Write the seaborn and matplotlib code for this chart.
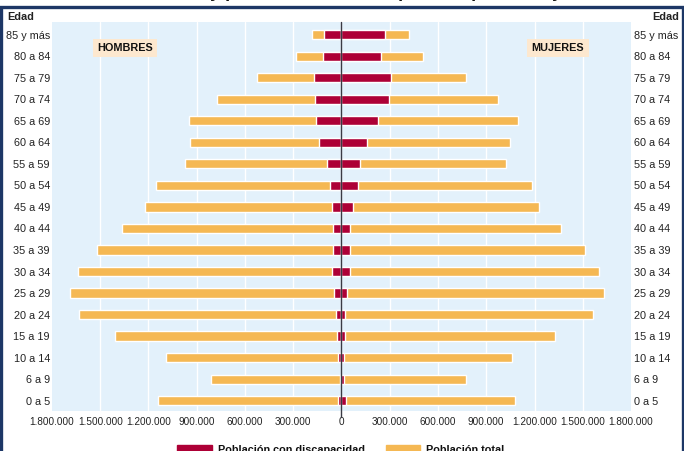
import numpy as np
import pandas as pd
import seaborn as sns
import matplotlib.pyplot as plt
from matplotlib.patches import Rectangle, Patch

# grupos de edad, de arriba hacia abajo
edades = ["85 y más", "80 a 84", "75 a 79", "70 a 74", "65 a 69", "60 a 64",
          "55 a 59", "50 a 54", "45 a 49", "40 a 44", "35 a 39", "30 a 34",
          "25 a 29", "20 a 24", "15 a 19", "10 a 14", "6 a 9", "0 a 5"]

# miles de personas
hombres_total = [184, 284, 528, 772, 947, 941, 972, 1153, 1222, 1366, 1522, 1641,
                 1691, 1634, 1409, 1091, 809, 1141]
mujeres_total = [420, 509, 772, 976, 1097, 1045, 1022, 1184, 1228, 1366, 1516, 1603,
                 1634, 1566, 1328, 1059, 772, 1078]
hombres_disc = [107, 118, 170, 164, 159, 141, 91, 74, 61, 55, 55, 61,
                47, 34, 30, 20, 11, 24]
mujeres_disc = [272, 247, 305, 295, 224, 159, 116, 103, 74, 55, 55, 51,
                32, 22, 22, 17, 17, 28]

ticks = [-1800000, -1500000, -1200000, -900000, -600000, -300000, 0,
         300000, 600000, 900000, 1200000, 1500000, 1800000]
tick_labels = ["1.800.000", "1.500.000", "1.200.000", "900.000", "600.000", "300.000", "0",
               "300.000", "600.000", "900.000", "1.200.000", "1.500.000", "1.800.000"]

ROJO = "#ad0036"
NARANJA = "#f5b853"
AZUL_FONDO = "#e3f1fb"
MARCO = "#1d3766"
TEXTO = "#222222"

df = pd.DataFrame({
    "edad": edades,
    "h_total": -np.array(hombres_total) * 1000,
    "m_total": np.array(mujeres_total) * 1000,
    "h_disc": -np.array(hombres_disc) * 1000,
    "m_disc": np.array(mujeres_disc) * 1000,
})

sns.set_style("white")
plt.rcParams["font.family"] = ["Liberation Sans", "DejaVu Sans"]

fig = plt.figure(figsize=(6.84, 4.51), dpi=100)
ax = fig.add_axes([52 / 684, 40 / 451, 579 / 684, 389 / 451])
ax.set_facecolor(AZUL_FONDO)

for col, color in [("h_total", NARANJA), ("m_total", NARANJA),
                   ("h_disc", ROJO), ("m_disc", ROJO)]:
    sns.barplot(data=df, x=col, y="edad", orient="y", color=color,
                saturation=1, width=0.43, errorbar=None, ax=ax, zorder=3)

ax.set_xlim(-1800000, 1800000)
ax.set_ylim(len(edades) - 1 + 0.48, -0.59)
for t in ticks[1:-1]:
    ax.axvline(t, color="white", lw=1, zorder=1)
ax.axvline(0, color="#3a3a44", lw=1, zorder=4, ymin=-0.015, clip_on=False)

ax.set_xticks(ticks)
ax.set_xticklabels(tick_labels)
ax.set_xlabel("")
ax.set_ylabel("")
ax.tick_params(axis="x", length=0, pad=4, labelsize=7.2, colors=TEXTO)
ax.tick_params(axis="y", length=0, pad=1.5, labelsize=7.8, colors=TEXTO)
for s in ax.spines.values():
    s.set_visible(False)

ax2 = ax.twinx()
ax2.set_ylim(ax.get_ylim())
ax2.set_yticks(range(len(edades)))
ax2.set_yticklabels(edades)
ax2.tick_params(axis="y", length=0, pad=2, labelsize=7.8, colors=TEXTO)
for s in ax2.spines.values():
    s.set_visible(False)

caja = dict(boxstyle="square,pad=0.4", fc="#fde8cf", ec="none")
fig.text(125 / 684, 1 - 48 / 451, "HOMBRES", ha="center", va="center", fontsize=7.8,
         fontweight="bold", color="#111111", bbox=caja)
fig.text(558 / 684, 1 - 48 / 451, "MUJERES", ha="center", va="center", fontsize=7.8,
         fontweight="bold", color="#111111", bbox=caja)

fig.text(7 / 684, 1 - 17 / 451, "Edad", ha="left", va="center", fontsize=7.8,
         fontweight="bold", color=TEXTO)
fig.text(679 / 684, 1 - 17 / 451, "Edad", ha="right", va="center", fontsize=7.8,
         fontweight="bold", color=TEXTO)

# titulo cortado en la parte superior (solo se ven los rasgos descendentes)
fig.text(0.5, 1 + 2.5 / 451, "Población total y población con discapacidad por edad y sexo",
         ha="center", va="baseline", fontsize=13, fontweight="bold", color="#111111")

# marco azul oscuro
fig.patches.append(Rectangle((1.3 / 684, -0.1), 681.4 / 684, 1.1 - 6.7 / 451,
                             transform=fig.transFigure, fill=False, ec=MARCO, lw=2.4))

handles = [Patch(color=ROJO), Patch(color=NARANJA)]
fig.legend(handles, ["Población con discapacidad", "Población total"],
           loc="center", bbox_to_anchor=(341 / 684, 1 - 450 / 451), ncol=2, frameon=False,
           handlelength=3.2, handleheight=1.0, columnspacing=1.9, handletextpad=0.55,
           prop={"size": 7.8, "weight": "bold"}, labelcolor="#111111")

plt.savefig("out.png", dpi=100)
plt.close()
